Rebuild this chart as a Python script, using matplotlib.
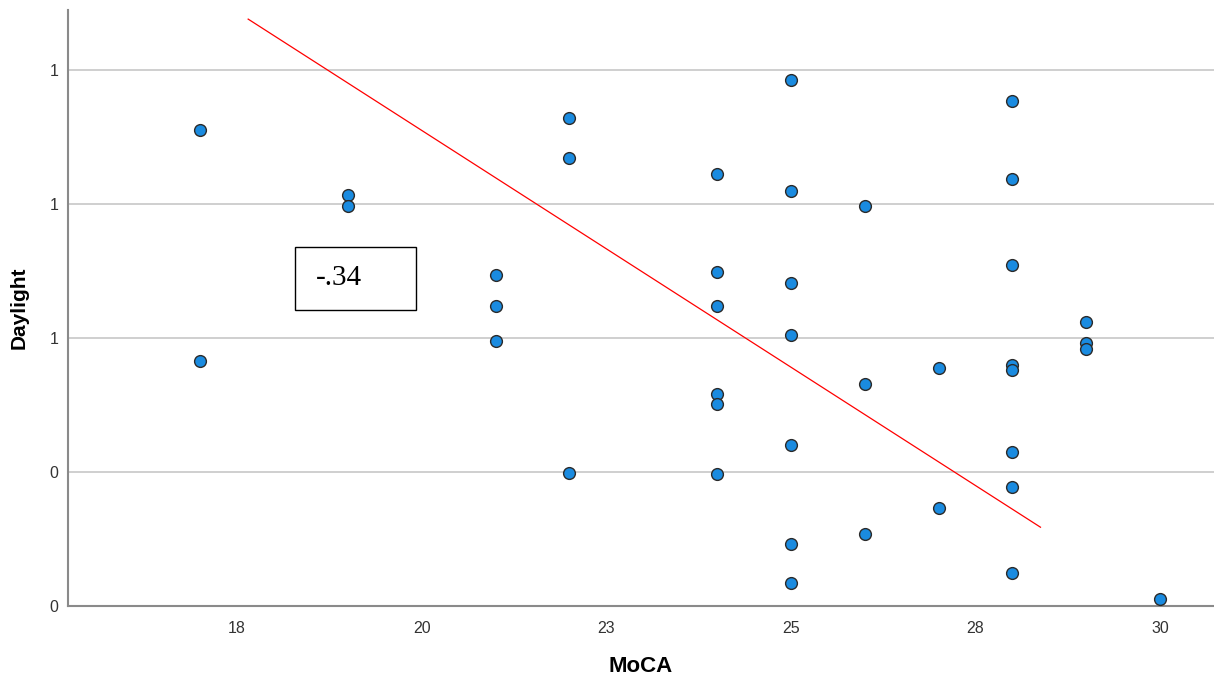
import matplotlib
matplotlib.use("Agg")
import matplotlib.pyplot as plt
from matplotlib.patches import Rectangle

# Data (MoCA score vs Daylight)
moca = [17, 17,
        19, 19,
        21, 21, 21,
        22, 22, 22,
        24, 24, 24, 24, 24, 24,
        25, 25, 25, 25, 25, 25, 25,
        26, 26, 26,
        27, 27,
        28, 28, 28, 28, 28, 28, 28, 28,
        29, 29, 29,
        30]
daylight = [0.888, 0.457,
            0.767, 0.746,
            0.618, 0.560, 0.494,
            0.910, 0.836, 0.248,
            0.806, 0.623, 0.560, 0.396, 0.377, 0.246,
            0.981, 0.774, 0.603, 0.506, 0.300, 0.116, 0.043,
            0.746, 0.414, 0.134,
            0.444, 0.183,
            0.942, 0.797, 0.636, 0.450, 0.440, 0.287, 0.222, 0.062,
            0.530, 0.491, 0.479,
            0.013]

# fit line as drawn in the reference
line_x = [17.65, 28.38]
line_y = [1.095, 0.147]

x_ticks = [17.5, 20, 22.5, 25, 27.5, 30]
x_labels = ['18', '20', '23', '25', '28', '30']
y_ticks = [0, 0.25, 0.5, 0.75, 1.0]
y_labels = ['0', '0', '1', '1', '1']
corr_text = '-.34'

plt.rcParams['font.family'] = ['Liberation Sans', 'DejaVu Sans']

fig = plt.figure(figsize=(12.14, 6.79), dpi=100)
ax = fig.add_axes([68 / 1214, 1 - 606 / 679, 1 - 68 / 1214, (606 - 10) / 679])

ax.set_xlim(15.21, 30.73)
ax.set_ylim(0, 1.112)

ax.set_yticks(y_ticks)
ax.set_yticklabels(y_labels)
ax.set_xticks(x_ticks)
ax.set_xticklabels(x_labels)
ax.tick_params(axis='both', length=0, labelsize=11.5, colors='#333333')
ax.tick_params(axis='x', pad=11)
ax.tick_params(axis='y', pad=7)

ax.grid(axis='y', color='#cfcfcf', lw=1.4)
ax.set_axisbelow(True)

for side in ['top', 'right']:
    ax.spines[side].set_visible(False)
for side in ['left', 'bottom']:
    ax.spines[side].set_color('#8a8a8a')
    ax.spines[side].set_linewidth(1.5)

ax.plot(line_x, line_y, color='red', lw=0.9, zorder=2)
ax.scatter(moca, daylight, s=72, color='#1a8be0', edgecolor='#2a2a2a',
           linewidth=1.0, zorder=3)

# annotation box with the correlation
ax.add_patch(Rectangle((18.29, 0.552), 1.63, 0.118, facecolor='white',
                       edgecolor='black', lw=1.0, zorder=4))
ax.text(18.57, 0.612, corr_text, family='Liberation Serif', fontsize=21,
        va='center', ha='left', zorder=5)

ax.set_xlabel('MoCA', fontsize=16, fontweight='bold', labelpad=14)
ax.set_ylabel('Daylight', fontsize=15, fontweight='bold', labelpad=15)

fig.savefig('out.png', dpi=100)
